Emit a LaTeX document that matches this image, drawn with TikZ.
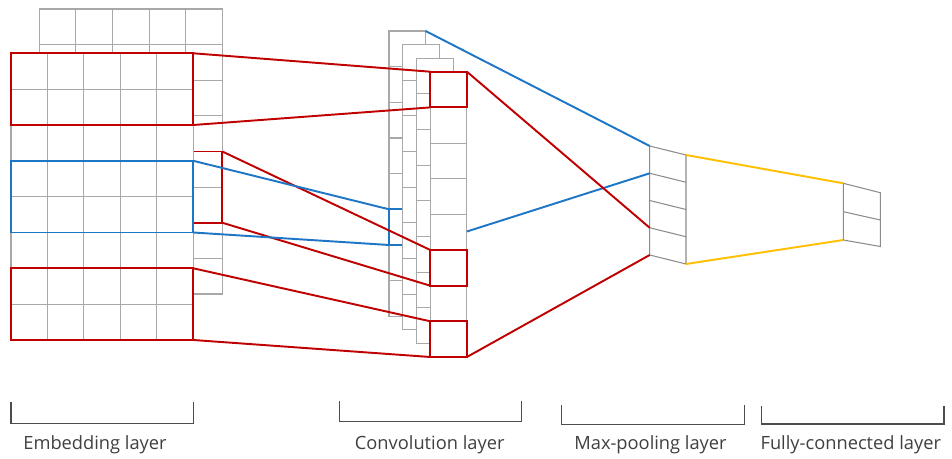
\documentclass[tikz,border=0pt]{standalone}
\usepackage{fontspec}
\setmainfont{Open Sans}
\definecolor{cred}{RGB}{192,0,0}
\definecolor{cblue}{RGB}{30,118,198}
\definecolor{cyel}{RGB}{255,192,0}
\definecolor{cgrid}{RGB}{168,168,168}
\definecolor{cdark}{RGB}{140,140,140}
\definecolor{ctext}{RGB}{64,64,64}
\tikzset{
  gridline/.style={draw=cgrid, line width=0.6pt},
  cellbox/.style={draw=cgrid, line width=0.6pt, fill=white},
  hlred/.style={draw=cred, line width=1.1pt},
  hlblue/.style={draw=cblue, line width=1.1pt},
  linkred/.style={draw=cred, line width=1.1pt},
  linkblue/.style={draw=cblue, line width=1.1pt},
  linkyel/.style={draw=cyel, line width=1.1pt},
  layerbox/.style={draw=cdark, line width=0.6pt},
  brace/.style={draw=black!70, line width=0.6pt},
  lab/.style={anchor=base, text=ctext, font=\fontsize{10.4pt}{12pt}\selectfont, inner sep=0pt}
}
\begin{document}
\begin{tikzpicture}[x=0.02cm, y=-0.02cm]
\useasboundingbox (0,0) rectangle (952,459);
\fill[white] (0,0) rectangle (952,459);

% ---------- Embedding layer: back matrix ----------
\path[cellbox] (39.3,9) rectangle (222.3,294);
\foreach \i in {1,...,4} \draw[gridline] ({39.3+36.6*\i},9) -- ({39.3+36.6*\i},294);
\foreach \j in {1,...,7} \draw[gridline] (39.3,{9+35.625*\j}) -- (222.3,{9+35.625*\j});
\coordinate (bkRtl) at (185.7,151.5);
\coordinate (bkRne) at (222.3,151.5);
\coordinate (bkRse) at (222.3,222.75);
\draw[hlred] (bkRtl) rectangle (bkRse);

% ---------- Embedding layer: front matrix ----------
\path[cellbox] (11,53.3) rectangle (193.3,340);
\foreach \i in {1,...,4} \draw[gridline] ({11+36.46*\i},53.3) -- ({11+36.46*\i},340);
\foreach \j in {1,...,7} \draw[gridline] (11,{53.3+35.84*\j}) -- (193.3,{53.3+35.84*\j});

\coordinate (eR1nw) at (11,53.3);   \coordinate (eR1ne) at (193.3,53.3);
\coordinate (eR1se) at (193.3,125); 
\coordinate (eBnw) at (11,160.8);   \coordinate (eBne) at (193.3,160.8);
\coordinate (eBse) at (193.3,232.5);
\coordinate (eR3nw) at (11,268.3);  \coordinate (eR3ne) at (193.3,268.3);
\coordinate (eR3se) at (193.3,340);
\draw[hlred] (eR1nw) rectangle (eR1se);
\draw[hlblue] (eBnw) rectangle (eBse);
\draw[hlred] (eR3nw) rectangle (eR3se);

% ---------- Convolution layer: four stacked columns ----------
\foreach \k in {0,...,3} {
  \pgfmathsetmacro{\cx}{389+13.77*\k}
  \pgfmathsetmacro{\cy}{31+13.57*\k}
  \path[cellbox] (\cx,\cy) rectangle ({\cx+36.6},{\cy+285.3});
  \foreach \j in {1,...,7} \draw[gridline] (\cx,{\cy+35.66*\j}) -- ({\cx+36.6},{\cy+35.66*\j});
  \ifnum\k=0
    \draw[hlblue] (389,209.3) rectangle (425.6,245);
  \fi
}
\coordinate (cBnw) at (389,209.3);
\coordinate (cBsw) at (389,245);
\coordinate (c0ne) at (425.6,31);
\coordinate (cR0nw) at (430.3,71.7);   \coordinate (cR0ne) at (466.9,71.7);
\coordinate (cR0sw) at (430.3,107.4);
\coordinate (cR5nw) at (430.3,250);
\coordinate (cR5sw) at (430.3,285.7);
\coordinate (cR7nw) at (430.3,321.3);
\coordinate (cR7sw) at (430.3,357);    \coordinate (cR7se) at (466.9,357);
\coordinate (cMid) at (466.9,231.5);
\draw[hlred] (cR0nw) rectangle (466.9,107.4);
\draw[hlred] (cR5nw) rectangle (466.9,285.7);
\draw[hlred] (cR7nw) rectangle (cR7se);

% ---------- Max-pooling layer ----------
\coordinate (pTL) at (649.7,146);   \coordinate (pTR) at (686,155);
\coordinate (pBL) at (649.7,255);   \coordinate (pBR) at (686,264);
\coordinate (pL1) at (649.7,173.3);
\coordinate (pL3) at (649.7,227.8);
\draw[layerbox] (pTL) -- (pTR) -- (pBR) -- (pBL) -- cycle;
\foreach \j in {1,2,3} \draw[layerbox] (649.7,{146+27.25*\j}) -- (686,{155+27.25*\j});

% ---------- Fully-connected layer ----------
\coordinate (fTL) at (843.3,183.3); \coordinate (fTR) at (880.3,192.7);
\coordinate (fBL) at (843.3,240);   \coordinate (fBR) at (880.3,246.5);
\draw[layerbox] (fTL) -- (fTR) -- (fBR) -- (fBL) -- cycle;
\draw[layerbox] (843.3,211.7) -- (880.3,220);

% ---------- Connectors: embedding -> convolution ----------
\draw[linkred] (eR1ne) -- (cR0nw);
\draw[linkred] (eR1se) -- (cR0sw);
\draw[linkred] (bkRne) -- (cR5nw);
\draw[linkred] (bkRse) -- (cR5sw);
\draw[linkblue] (eBne) -- (cBnw);
\draw[linkblue] (eBse) -- (cBsw);
\draw[linkred] (eR3ne) -- (cR7nw);
\draw[linkred] (eR3se) -- (cR7sw);

% ---------- Connectors: convolution -> pooling ----------
\draw[linkblue] (c0ne) -- (pTL);
\draw[linkblue] (cMid) -- (pL1);
\draw[linkred] (cR0ne) -- (pL3);
\draw[linkred] (cR7se) -- (pBL);

% ---------- Connectors: pooling -> fully connected ----------
\draw[linkyel] (pTR) -- (fTL);
\draw[linkyel] (pBR) -- (fBL);

% ---------- Brackets and labels ----------
\draw[brace] (11,402) -- (11,423.3) -- (193.3,423.3) -- (193.3,402);
\draw[brace] (339.3,401) -- (339.3,421.7) -- (521.7,421.7) -- (521.7,401);
\draw[brace] (561.7,405) -- (561.7,424.3) -- (744.3,424.3) -- (744.3,405);
\draw[brace] (761.7,406) -- (761.7,424) -- (944,424) -- (944,406);

\node[lab] (labEmb)  at (95,449.5)    {Embedding layer};
\node[lab] (labConv) at (429.7,449.5) {Convolution layer};
\node[lab] (labPool) at (650.5,449.5) {Max-pooling layer};
\node[lab] (labFC)   at (850.8,449.5) {Fully-connected layer};
\end{tikzpicture}
\end{document}
